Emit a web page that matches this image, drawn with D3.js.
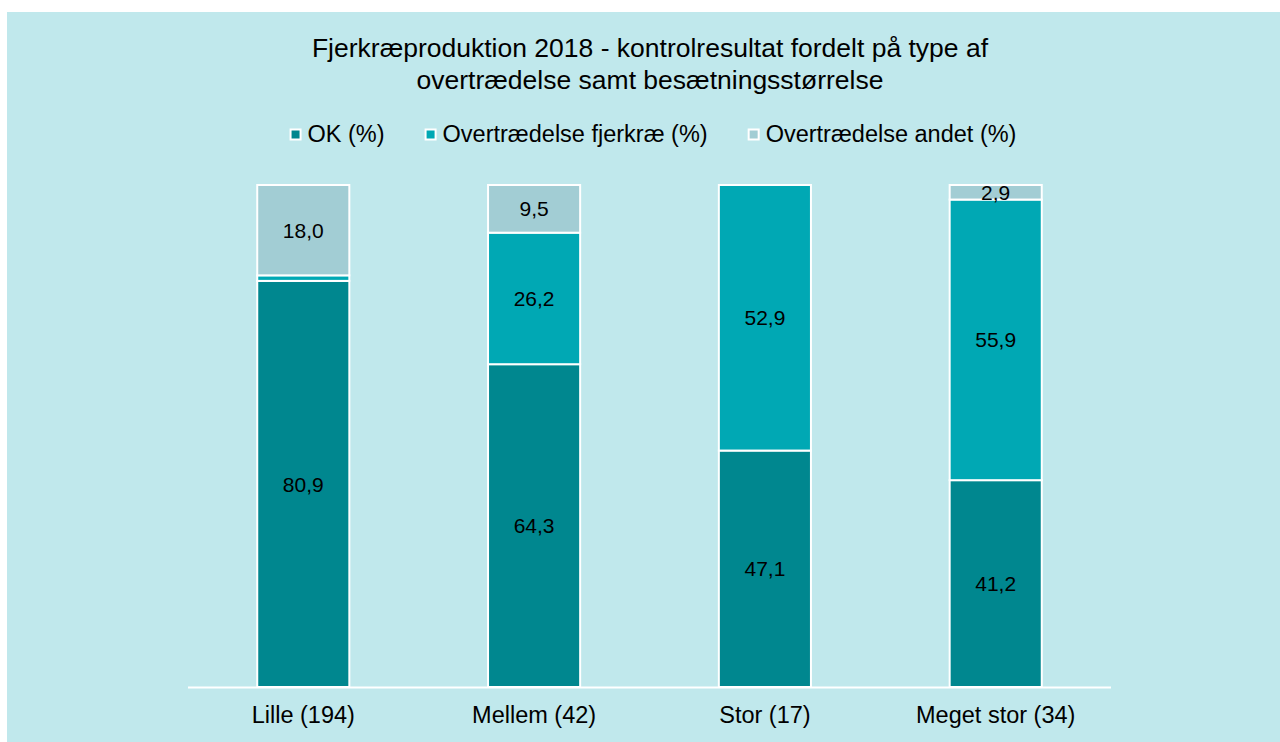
<!DOCTYPE html>
<html>
<head>
<meta charset="utf-8">
<script src="https://cdn.jsdelivr.net/npm/d3@7"></script>
<style>
  body { margin: 0; background: #ffffff; }
  svg { display: block; font-family: "Liberation Sans", Arial, sans-serif; }
</style>
</head>
<body>
<svg width="1280" height="742"></svg>
<script>
// data
var categories = ["Lille (194)", "Mellem (42)", "Stor (17)", "Meget stor (34)"];
var seriesNames = ["OK (%)", "Overtrædelse fjerkræ (%)", "Overtrædelse andet (%)"];
var okValues = [80.9, 64.3, 47.1, 41.2];
var fjerkraeValues = [1.1, 26.2, 52.9, 55.9];
var andetValues = [18.0, 9.5, 0, 2.9];
var titleLines = ["Fjerkræproduktion 2018 - kontrolresultat fordelt på type af", "overtrædelse samt besætningsstørrelse"];

var colors = ["#00878f", "#00a8b4", "#a2cdd4"];

var svg = d3.select("svg");

// panel background
svg.append("rect")
    .attr("x", 7).attr("y", 12)
    .attr("width", 1273).attr("height", 730)
    .attr("fill", "#c0e8ec");

// title
svg.append("g").selectAll("text")
    .data(titleLines)
    .enter().append("text")
    .attr("x", 650)
    .attr("y", function(d, i) { return 57 + i * 32; })
    .attr("text-anchor", "middle")
    .attr("font-size", 26.5)
    .attr("fill", "#000")
    .text(function(d) { return d; });

// rows for the stack
var rows = categories.map(function(c, i) {
    return { cat: c, ok: okValues[i], fj: fjerkraeValues[i], an: andetValues[i] };
});
var keys = ["ok", "fj", "an"];
var stack = d3.stack().keys(keys)(rows);

var x = d3.scaleBand()
    .domain(categories)
    .range([188, 1111])
    .paddingInner(0.601)
    .paddingOuter(0.3);

var y = d3.scaleLinear()
    .domain([0, 100])
    .range([687, 185]);

var layers = svg.append("g").selectAll("g")
    .data(stack)
    .enter().append("g")
    .attr("fill", function(d, i) { return colors[i]; });

layers.selectAll("rect")
    .data(function(d) { return d.filter(function(p) { return p[1] - p[0] > 0; }); })
    .enter().append("rect")
    .attr("x", function(d) { return x(d.data.cat); })
    .attr("width", x.bandwidth())
    .attr("y", function(d) { return y(d[1]); })
    .attr("height", function(d) { return y(d[0]) - y(d[1]); })
    .attr("stroke", "#fff")
    .attr("stroke-width", 2);

// value labels
layers.selectAll("text")
    .data(function(d) { return d.filter(function(p) { return p[1] - p[0] > 2; }); })
    .enter().append("text")
    .attr("x", function(d) { return x(d.data.cat) + x.bandwidth() / 2; })
    .attr("y", function(d) { return (y(d[0]) + y(d[1])) / 2; })
    .attr("dy", "0.36em")
    .attr("text-anchor", "middle")
    .attr("font-size", 21)
    .attr("fill", "#000")
    .text(function(d) { return (d[1] - d[0]).toFixed(1).replace(".", ","); });

// x axis
var xAxis = svg.append("g")
    .attr("transform", "translate(0,687.5)")
    .call(d3.axisBottom(x).tickSize(0).tickPadding(19));
xAxis.select(".domain").attr("stroke", "#fff").attr("stroke-width", 2).attr("d", "M188,0H1111");
xAxis.selectAll("text")
    .attr("font-size", 23.5)
    .attr("font-family", "Liberation Sans, Arial, sans-serif")
    .attr("fill", "#000");

// legend
var legend = svg.append("g");
var items = legend.selectAll("g")
    .data(seriesNames)
    .enter().append("g");
items.append("rect")
    .attr("width", 10).attr("height", 10)
    .attr("y", 129.5)
    .attr("fill", function(d, i) { return colors[i]; })
    .attr("stroke", "#fff")
    .attr("stroke-width", 2);
items.append("text")
    .attr("x", 17)
    .attr("y", 142)
    .attr("font-size", 23.5)
    .attr("fill", "#000")
    .text(function(d) { return d; });

var offsets = [], total = 0;
items.each(function(d, i) {
    var w = 17 + this.querySelector("text").getComputedTextLength();
    offsets.push(total);
    total += w + (i < seriesNames.length - 1 ? 41 : 0);
});
var startX = 653.5 - total / 2;
items.attr("transform", function(d, i) { return "translate(" + (startX + offsets[i]) + ",0)"; });
</script>
</body>
</html>
